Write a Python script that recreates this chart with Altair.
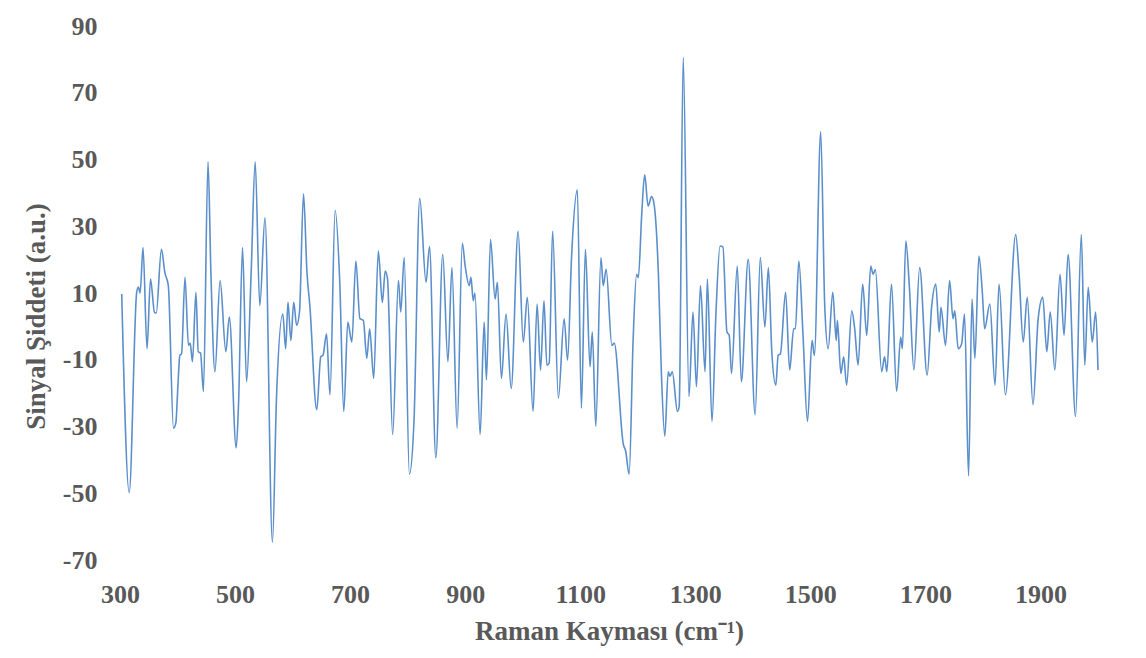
import altair as alt
import pandas as pd

# Raman shift (cm^-1) at the traced vertices of the signal
shift = [
    303, 316, 329, 332, 335, 340, 347, 353, 360, 363, 372, 378, 384, 393, 397, 401, 404, 407,
    413, 419, 422, 426, 432, 436, 440, 445, 453, 458, 465, 474, 484, 490, 502,
    506, 513, 520, 528, 535, 543, 552, 565, 572, 583, 588, 592, 597, 602, 607, 612, 619,
    625, 630, 642, 649, 653, 659, 665, 674, 682, 689, 696, 703, 710, 717, 723,
    729, 734, 741, 749, 756, 761, 765, 774, 784, 788, 794, 803, 811, 821, 832, 838, 849,
    861, 870, 877, 886, 895, 900, 907, 910, 914, 917, 926, 933, 937,
    944, 952, 956, 963, 971, 980, 992, 1001, 1008, 1018, 1025, 1031, 1037, 1042, 1046,
    1052, 1062, 1072, 1078, 1085, 1095, 1102, 1109, 1117, 1121, 1127, 1136, 1140, 1145,
    1155, 1159, 1175, 1179, 1185, 1192, 1198, 1201, 1207, 1212, 1218, 1224, 1228, 1236,
    1241, 1247, 1253, 1256, 1260, 1269, 1272, 1279, 1289, 1296, 1302, 1309, 1317, 1321,
    1329, 1336, 1343, 1348, 1355, 1359, 1363, 1373,
    1380, 1392, 1404, 1413, 1421, 1427, 1433, 1440, 1444, 1448, 1457, 1464, 1471, 1474,
    1480, 1487, 1495, 1503, 1507, 1518, 1525, 1531, 1539, 1545, 1547, 1553, 1558, 1563,
    1572, 1577, 1583, 1591,
    1598, 1605, 1609, 1613, 1624, 1629, 1633, 1641, 1650, 1657, 1660, 1666, 1672, 1680,
    1690, 1703, 1711, 1718, 1724, 1727, 1735, 1742, 1748, 1751, 1757, 1763, 1768, 1775,
    1781, 1786, 1793, 1799, 1803,
    1812, 1821, 1828, 1839, 1857, 1863, 1870, 1877, 1887, 1896, 1904, 1911, 1917, 1925,
    1934, 1941, 1948, 1961, 1971, 1977, 1983, 1990, 1996, 2000,
]

# Signal intensity (a.u.) at those vertices
intensity = [
    9.7, -49.8, 10.2, 11.8, 10.0, 23.6, -6.7, 14.2, 4.2, 4.0, 23.1, 16.1, 12.2, -30.5, -29.0, -16.6, -8.7, -8.2,
    14.7, -5.7, -5.0, -10.6, 10.2, -7.6, -8.0, -19.5, 49.3, 16.1, -13.6, 13.7, -7.6, 2.8, -36.4,
    -23.5, 23.6, -16.6, 16.1, 49.3, 6.2, 32.5, -64.7, -21.5, 3.7, -6.7, 7.2, -4.2, 7.2, 0.3, 4.3, 39.7,
    16.1, 6.2, -25.0, -9.1, -8.6, -2.2, -20.5, 34.8, 13.2, -25.5, 1.3, -4.7, 19.6, 2.3, 1.8,
    -9.6, -0.7, -15.6, 22.6, 7.2, 16.6, 14.2, -32.4, 13.7, 4.3, 20.6, -44.3, -28.5, 38.4, 13.2, 23.9, -39.4,
    21.6, -10.6, 17.6, -30.5, 24.9, 18.1, 12.2, 14.7, 7.7, 10.0, -32.4, 1.3, -16.0,
    26.0, 8.2, 13.2, -15.6, 3.7, -18.6, 28.5, -4.7, 8.7, -25.5, 6.7, -13.1, 7.7, -11.6, -11.0,
    28.5, -21.5, 2.3, -10.1, 21.1, 40.9, -24.5, 23.1, -12.1, -1.7, -30.0, 20.6, 12.2, 17.1,
    -5.7, -5.0, -35.4, -37.4, -44.3, -3.7, 15.6, 14.6, 34.0, 45.4, 36.0, 38.9, 37.0, 15.1,
    -13.6, -32.9, -13.6, -15.0, -13.6, -25.5, -24.0, 80.6, -21.0, 4.3, -18.1, 12.2, -13.6, 14.2,
    -28.5, 4.3, 24.1, 23.8, -1.7, -2.7, -14.1, 18.1,
    -16.6, 20.1, -26.5, 20.6, -0.2, 17.6, -7.6, -17.6, -8.7, -8.2, 10.2, -13.1, -0.7, -0.7,
    19.6, -1.7, -28.5, -4.2, -8.7, 58.3, 6.2, -6.7, 10.2, -4.2, 1.8, -14.1, -9.1, -17.6,
    4.7, -0.6, -11.6, 12.7,
    -2.7, 18.1, 15.6, 17.0, -13.6, -9.1, -13.6, 12.7, -19.5, -3.2, -6.7, 25.6, 12.2, -13.1,
    17.6, -14.6, 6.2, 12.7, -1.7, 5.7, -5.7, 13.7, 2.3, 4.7, -6.7, -5.2, 3.7, -44.8,
    8.2, -9.6, 21.1, 10.0, -0.7,
    6.7, -17.6, 12.7, -20.5, 27.5, 15.0, -4.7, 8.7, -23.5, 2.3, 8.7, -7.6, 4.3, -13.1,
    15.6, -2.7, 21.6, -27.0, 27.5, -11.6, 11.7, -4.7, 4.3, -13.1,
]

x_ticks = [300, 500, 700, 900, 1100, 1300, 1500, 1700, 1900]
y_ticks = [-70, -50, -30, -10, 10, 30, 50, 70, 90]

df = pd.DataFrame({"shift": shift, "intensity": intensity})

FONT = "Liberation Serif"
GREY = "#595959"

chart = (
    alt.Chart(df)
    .mark_line(color="#5B8FCB", strokeWidth=1.6, interpolate="monotone")
    .encode(
        x=alt.X(
            "shift:Q",
            scale=alt.Scale(domain=[300, 2000], nice=False, zero=False),
            axis=alt.Axis(
                title="Raman Kayması (cm⁻¹)",
                values=x_ticks,
                labelExpr="'' + datum.value",
                grid=False,
                domain=False,
                ticks=False,
                tickSize=0,
                labelPadding=42,
                labelBaseline="alphabetic",
                labelFont=FONT,
                labelFontSize=26,
                labelFontWeight="bold",
                labelColor=GREY,
                labelFlush=False,
                titleFont=FONT,
                titleFontSize=27,
                titleFontWeight="bold",
                titleColor=GREY,
                titleBaseline="alphabetic",
                titleY=79,
            ),
        ),
        y=alt.Y(
            "intensity:Q",
            scale=alt.Scale(domain=[-70, 90], nice=False, zero=False),
            axis=alt.Axis(
                title="Sinyal Şiddeti (a.u.)",
                values=y_ticks,
                labelExpr="'' + datum.value",
                grid=False,
                domain=False,
                ticks=False,
                tickSize=0,
                labelPadding=23,
                labelFont=FONT,
                labelFontSize=26,
                labelFontWeight="bold",
                labelColor=GREY,
                labelFlush=False,
                titleFont=FONT,
                titleFontSize=27,
                titleFontWeight="bold",
                titleColor=GREY,
                titleX=-84,
                titleY=290,
                titleBaseline="middle",
                titleAngle=270,
            ),
        ),
    )
    .properties(
        width=978,
        height=534,
        autosize=alt.AutoSizeParams(type="none"),
        padding={"left": 120, "top": 26, "right": 48, "bottom": 98},
        background="white",
    )
    .configure_view(stroke=None)
)

chart.save("out.html", embed_options={"renderer": "svg", "actions": False})
